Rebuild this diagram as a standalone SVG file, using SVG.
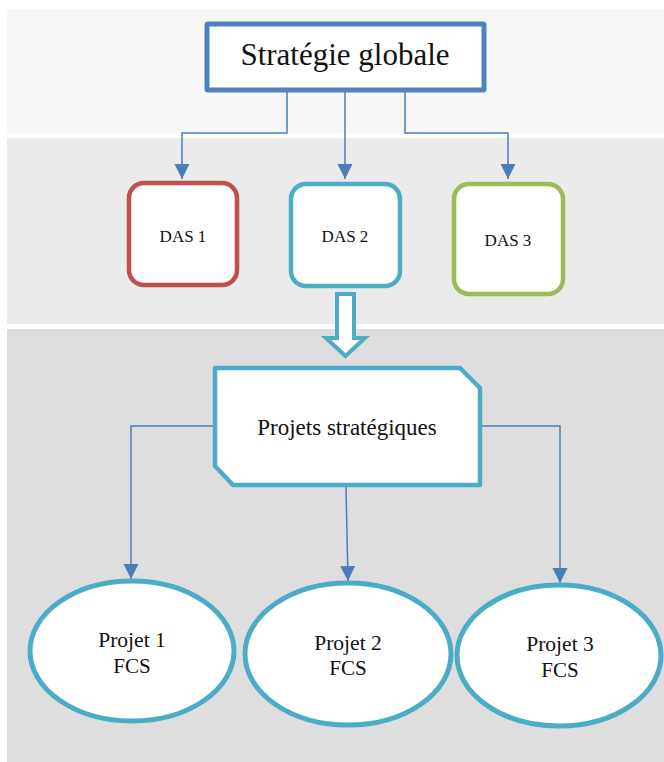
<svg xmlns="http://www.w3.org/2000/svg" width="664" height="762" viewBox="0 0 664 762">
<style>
.t{font-family:"Liberation Serif","Times New Roman",serif;fill:#111;text-anchor:middle}
.c{fill:none;stroke:#4a7ebb;stroke-width:1.5}
.n{fill:#fff;stroke-width:4.5}
</style>
<defs>
<marker id="ah" markerUnits="userSpaceOnUse" markerWidth="16" markerHeight="16" viewBox="0 0 16 16" refX="15" refY="8" orient="auto">
<path d="M0,0.5 L15,8 L0,15.5 Z" fill="#4a7ebb"/>
</marker>
</defs>
<g id="bands">
<rect x="7" y="9" width="657" height="124" fill="#f7f7f7"/>
<rect x="7" y="138" width="657" height="186" fill="#ebebeb"/>
<rect x="7" y="329" width="657" height="433" fill="#dedede"/>
</g>
<g id="connectors">
<path class="c" d="M287,92 V133 H182 V179" marker-end="url(#ah)"/>
<path class="c" d="M345,92 V179" marker-end="url(#ah)"/>
<path class="c" d="M405,92 V133 H508 V179" marker-end="url(#ah)"/>
<path class="c" d="M213,426 H131 V579" marker-end="url(#ah)"/>
<path class="c" d="M346,487 L348,581" marker-end="url(#ah)"/>
<path class="c" d="M482,426 H560 V583" marker-end="url(#ah)"/>
<path id="blockArrow" d="M337,294 H354 V338 H365 L345.5,356 L326,338 H337 Z" fill="#fff" stroke="#4bacc6" stroke-width="4" stroke-linejoin="miter"/>
</g>
<g id="strategie">
<rect x="207" y="24" width="277" height="66" fill="#fff" stroke="#4f81bd" stroke-width="5" rx="1"/>
<text class="t" x="345" y="65" font-size="31">Stratégie globale</text>
</g>
<g id="das1">
<rect class="n" x="129" y="183" width="108" height="102" rx="15" stroke="#c0504d"/>
<text class="t" x="183" y="242" font-size="17">DAS 1</text>
</g>
<g id="das2">
<rect class="n" x="291" y="184" width="109" height="102" rx="15" stroke="#4bacc6"/>
<text class="t" x="345" y="242" font-size="17">DAS 2</text>
</g>
<g id="das3">
<rect class="n" x="454" y="184" width="109" height="110" rx="15" stroke="#9bbb59"/>
<text class="t" x="508" y="246" font-size="17">DAS 3</text>
</g>
<g id="projets">
<path d="M215,368 H460 L480,388 V485 H233 L215,466 Z" fill="#fff" stroke="#4bacc6" stroke-width="4.5" stroke-linejoin="round"/>
<text class="t" x="347" y="435" font-size="23">Projets stratégiques</text>
</g>
<g id="projet1">
<ellipse cx="132" cy="651" rx="102" ry="70" fill="#fff" stroke="#4bacc6" stroke-width="5"/>
<text class="t" x="132" y="647" font-size="21.5">Projet 1</text>
<text class="t" x="132" y="673" font-size="21">FCS</text>
</g>
<g id="projet2">
<ellipse cx="348" cy="654" rx="103" ry="71" fill="#fff" stroke="#4bacc6" stroke-width="5"/>
<text class="t" x="348" y="650" font-size="21.5">Projet 2</text>
<text class="t" x="348" y="675" font-size="21">FCS</text>
</g>
<g id="projet3">
<ellipse cx="559" cy="655.5" rx="102" ry="70.5" fill="#fff" stroke="#4bacc6" stroke-width="5"/>
<text class="t" x="560" y="651" font-size="21.5">Projet 3</text>
<text class="t" x="560" y="677" font-size="21">FCS</text>
</g>
</svg>
